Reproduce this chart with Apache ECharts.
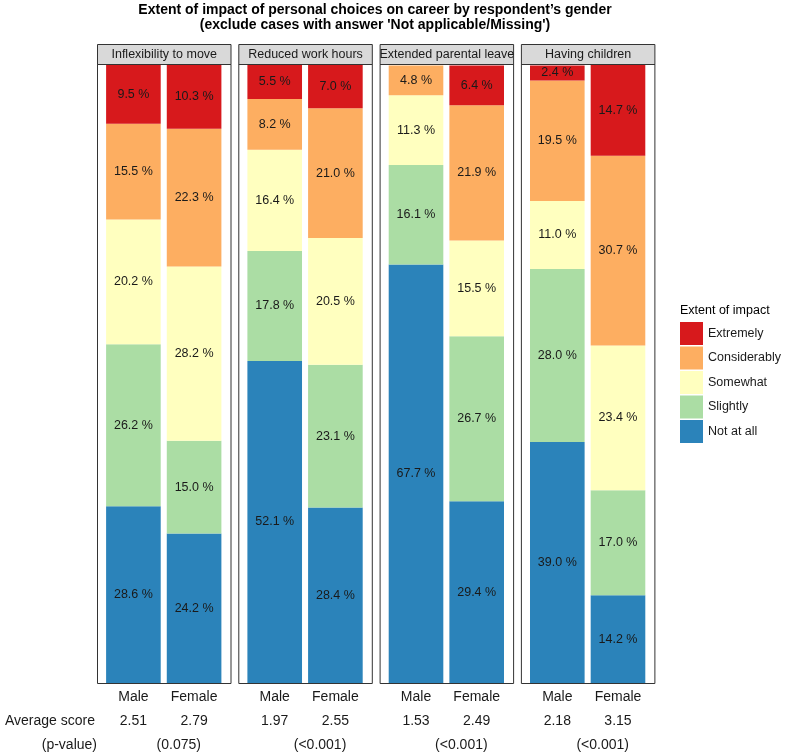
<!DOCTYPE html>
<html><head><meta charset="utf-8">
<script src="https://cdn.jsdelivr.net/npm/echarts@6/dist/echarts.min.js"></script>
<style>html,body{margin:0;padding:0;background:#fff}#c{width:786px;height:754px}</style>
</head><body><div id="c"></div>
<script>
// ---- data ----
const categories = ['Male', 'Female'];
const panels = ['Inflexibility to move', 'Reduced work hours', 'Extended parental leave', 'Having children'];
const levels = ['Not at all', 'Slightly', 'Somewhat', 'Considerably', 'Extremely']; // bottom -> top
const legendOrder = ['Extremely', 'Considerably', 'Somewhat', 'Slightly', 'Not at all'];
const notAtAll     = [[28.6, 24.2], [52.1, 28.4], [67.7, 29.4], [39.0, 14.2]];
const slightly     = [[26.2, 15.0], [17.8, 23.1], [16.1, 26.7], [28.0, 17.0]];
const somewhat     = [[20.2, 28.2], [16.4, 20.5], [11.3, 15.5], [11.0, 23.4]];
const considerably = [[15.5, 22.3], [8.2, 21.0], [4.8, 21.9], [19.5, 30.7]];
const extremely    = [[9.5, 10.3], [5.5, 7.0], [0, 6.4], [2.4, 14.7]];
const avgScore     = [[2.51, 2.79], [1.97, 2.55], [1.53, 2.49], [2.18, 3.15]];
const pValues      = ['(0.075)', '(<0.001)', '(<0.001)', '(<0.001)'];
const titleLines   = ["Extent of impact of personal choices on career by respondent\u2019s gender",
                      "(exclude cases with answer 'Not applicable/Missing')"];

// ---- styling / layout ----
const FONT = '"Liberation Sans", Arial, sans-serif';
const levelData = { 'Not at all': notAtAll, 'Slightly': slightly, 'Somewhat': somewhat,
                    'Considerably': considerably, 'Extremely': extremely };
const colors = { 'Not at all': '#2b83ba', 'Slightly': '#abdda4', 'Somewhat': '#ffffbf',
                 'Considerably': '#fdae61', 'Extremely': '#d7191c' };
const PL = 97, STEP = 141.3, PW = 133.5, STRIP_TOP = 44, TOP = 65, BOT = 683;
const unit = PW / 2.2;

const chart = echarts.init(document.getElementById('c'), null, { renderer: 'canvas' });
const grids = [], xAxes = [], yAxes = [], series = [], graphics = [];

panels.forEach((p, i) => {
  const left = PL + i * STEP;
  grids.push({ left: left + 0.1 * unit, width: 2 * unit, top: TOP, height: BOT - TOP });
  xAxes.push({
    type: 'category', gridIndex: i, data: categories,
    axisLine: { show: false }, axisTick: { show: false },
    axisLabel: {
      interval: 0, hideOverlap: false,
      margin: 5, color: '#1a1a1a', fontFamily: FONT,
      formatter: (v, idx) => '{n|' + v + '}\n{s|' + avgScore[i][idx].toFixed(2) + '}',
      rich: {
        n: { fontSize: 14, lineHeight: 18, color: '#1a1a1a', fontFamily: FONT },
        s: { fontSize: 14, lineHeight: 30, color: '#1a1a1a', fontFamily: FONT }
      }
    }
  });
  yAxes.push({ type: 'value', gridIndex: i, min: 0, max: 100, show: false, splitLine: { show: false } });
  levels.forEach(lv => {
    series.push({
      type: 'bar', name: lv, stack: 'p' + i, xAxisIndex: i, yAxisIndex: i,
      data: levelData[lv][i], barWidth: 0.9 * unit,
      itemStyle: { color: colors[lv] },
      emphasis: { disabled: true },
      label: {
        show: true, position: 'inside', color: '#1a1a1a', fontSize: 12.5, fontFamily: FONT,
        formatter: q => q.value > 0 ? q.value.toFixed(1) + ' %' : ''
      }
    });
  });
  // strip header
  graphics.push({ type: 'rect', z: 10, shape: { x: left + 0.5, y: STRIP_TOP + 0.5, width: PW, height: TOP - 1 - STRIP_TOP },
    style: { fill: '#d9d9d9', stroke: '#333', lineWidth: 1 } });
  graphics.push({ type: 'text', z: 11, x: left + PW / 2 + 0.5, y: (STRIP_TOP + TOP - 1) / 2 + 0.5,
    style: { text: p, fill: '#1a1a1a', font: '12.5px ' + FONT, align: 'center', verticalAlign: 'middle' } });
  // panel border
  graphics.push({ type: 'rect', z: 10, shape: { x: left + 0.5, y: TOP - 0.5, width: PW, height: BOT - TOP + 1 },
    style: { fill: null, stroke: '#333', lineWidth: 1 } });
  // p-value
  graphics.push({ type: 'text', z: 11, x: left + PW / 2 + 15, y: 745,
    style: { text: pValues[i], fill: '#1a1a1a', font: '14px ' + FONT, align: 'center', verticalAlign: 'middle' } });
});

graphics.push({ type: 'text', x: 375, y: 3,
  style: { text: titleLines.join('\n'), fill: '#000', font: 'bold 14px ' + FONT, lineHeight: 15,
           align: 'center', verticalAlign: 'top' } });
graphics.push({ type: 'text', x: 5, y: 721,
  style: { text: 'Average score', fill: '#1a1a1a', font: '14px ' + FONT, align: 'left', verticalAlign: 'middle' } });
graphics.push({ type: 'text', x: 97, y: 745,
  style: { text: '(p-value)', fill: '#1a1a1a', font: '14px ' + FONT, align: 'right', verticalAlign: 'middle' } });
graphics.push({ type: 'text', x: 680, y: 311,
  style: { text: 'Extent of impact', fill: '#000', font: '12.5px ' + FONT, align: 'left', verticalAlign: 'middle' } });

chart.setOption({
  animation: false,
  backgroundColor: '#fff',
  grid: grids, xAxis: xAxes, yAxis: yAxes, series: series,
  legend: {
    data: legendOrder, orient: 'vertical', left: 680, top: 322,
    itemWidth: 23, itemHeight: 23, itemGap: 1.5, icon: 'rect', padding: 0,
    textStyle: { fontSize: 12.5, color: '#1a1a1a', fontFamily: FONT }
  },
  graphic: graphics
});
</script></body></html>
